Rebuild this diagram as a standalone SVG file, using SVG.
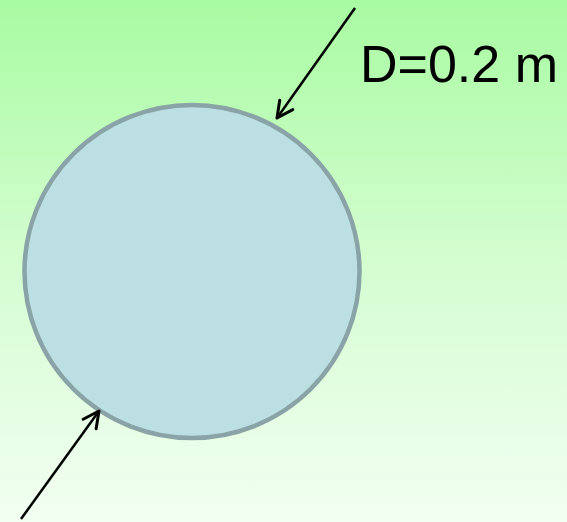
<svg xmlns="http://www.w3.org/2000/svg" width="567" height="522" viewBox="0 0 567 522">
  <defs>
    <linearGradient id="bg" x1="0" y1="0" x2="0" y2="1">
      <stop offset="0" stop-color="#a8fba2"/>
      <stop offset="0.5" stop-color="#d4fdd0"/>
      <stop offset="1" stop-color="#f2fff2"/>
    </linearGradient>
    <marker id="arrow" viewBox="0 0 20 20" refX="18" refY="10" markerWidth="20" markerHeight="20" markerUnits="userSpaceOnUse" orient="auto">
      <path d="M2,2 L18,10 L2,18" fill="none" stroke="#000" stroke-width="3" stroke-linecap="round" stroke-linejoin="round"/>
    </marker>
    <style>
      .conn { stroke: #000; stroke-width: 2.5; fill: none; marker-end: url(#arrow); }
      .label { font-family: "Liberation Sans", Arial, sans-serif; font-size: 52px; fill: #000; }
    </style>
  </defs>
  <rect x="0" y="0" width="567" height="522" fill="url(#bg)"/>
  <g id="pipe">
    <ellipse cx="192" cy="271.5" rx="167.5" ry="166.5" fill="#bcdfe3" stroke="#8aa3a6" stroke-width="4.5"/>
  </g>
  <g id="label-d">
    <text class="label" x="360" y="82">D=0.2 m</text>
  </g>
  <g id="connectors">
    <line class="conn" x1="355" y1="8" x2="277" y2="118"/>
    <line class="conn" x1="21" y1="519" x2="99" y2="411"/>
  </g>
</svg>
